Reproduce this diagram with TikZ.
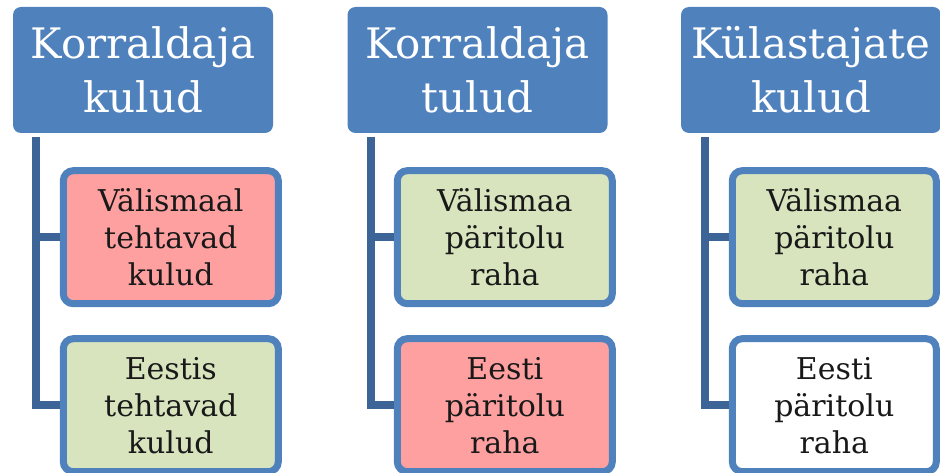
\documentclass[tikz,border=0pt]{standalone}
\usepackage{fontspec}
\setmainfont{DejaVu Serif}
\usepackage{tikz}
\usetikzlibrary{positioning}
\definecolor{hdrblue}{HTML}{4F81BD}
\definecolor{linkblue}{HTML}{3C6496}
\definecolor{redfill}{HTML}{FFA0A0}
\definecolor{greenfill}{HTML}{D7E4BD}
\tikzstyle{link}=[
	-,
	draw=linkblue,
	line width=8pt,
	line join=miter
]
\tikzstyle{head}=[
	rectangle,
	rounded corners=8pt,
	fill=hdrblue,
	text=white,
	align=center,
	minimum width=260pt,
	minimum height=126pt,
	font={\fontsize{42pt}{54pt}\selectfont}
]
\tikzstyle{item}=[
	rectangle,
	rounded corners=10pt,
	draw=hdrblue,
	line width=7pt,
	text=black!90,
	align=center,
	minimum width=215pt,
	minimum height=133pt,
	font={\fontsize{30pt}{37pt}\selectfont}
]
\tikzstyle{redbox}=[item, fill=redfill]
\tikzstyle{greenbox}=[item, fill=greenfill]
\tikzstyle{whitebox}=[item, fill=white]

\begin{document}
\begin{tikzpicture}
\useasboundingbox (0pt,0pt) rectangle (940pt,-473pt);

\node[head] (h1) at (143pt,-70pt) {Korraldaja\\kulud};
\node[head] (h2) at (477.5pt,-70pt) {Korraldaja\\tulud};
\node[head] (h3) at (811pt,-70pt) {Külastajate\\kulud};

\node[redbox, below right=34pt and 47pt of h1.south west] (c11) {Välismaal\\tehtavad\\kulud};
\node[greenbox, below=28pt of c11] (c12) {Eestis\\tehtavad\\kulud};
\node[greenbox, below right=34pt and 46.5pt of h2.south west] (c21) {Välismaa\\päritolu\\raha};
\node[redbox, below=28pt of c21] (c22) {Eesti\\päritolu\\raha};
\node[greenbox, minimum width=204pt, below right=34pt and 48pt of h3.south west] (c31) {Välismaa\\päritolu\\raha};
\node[whitebox, minimum width=204pt, below=28pt of c31] (c32) {Eesti\\päritolu\\raha};

\coordinate (t1) at ([xshift=23.5pt,yshift=-4pt]h1.south west);
\coordinate (t2) at ([xshift=23.5pt,yshift=-4pt]h2.south west);
\coordinate (t3) at ([xshift=24pt,yshift=-4pt]h3.south west);

\draw[link] (t1) |- (c12.west);
\draw[link] (t1 |- c11.west) to (c11.west);
\draw[link] (t2) |- (c22.west);
\draw[link] (t2 |- c21.west) to (c21.west);
\draw[link] (t3) |- (c32.west);
\draw[link] (t3 |- c31.west) to (c31.west);

\end{tikzpicture}
\end{document}
